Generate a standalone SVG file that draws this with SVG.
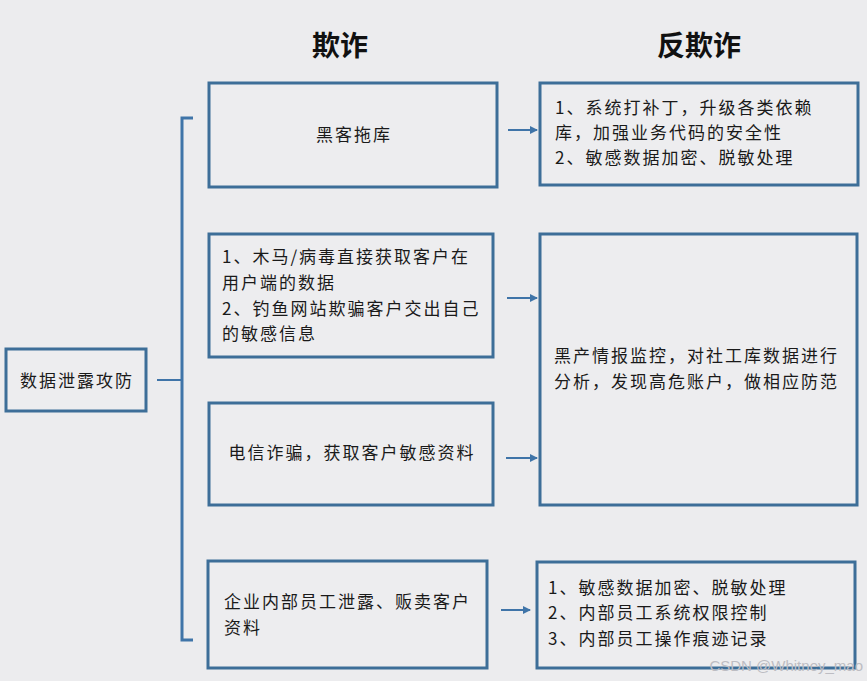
<svg xmlns="http://www.w3.org/2000/svg" width="867" height="681" viewBox="0 0 867 681">
<style>
.bg{fill:#ececee}
.box{fill:#ededef;stroke:#3d6e98;stroke-width:3}
.t{font-family:"Noto Sans CJK SC","Liberation Sans",sans-serif;font-size:17px;letter-spacing:2px;fill:#1a1a1a}
.h{font-family:"Noto Sans CJK SC","Liberation Sans",sans-serif;font-size:28px;font-weight:bold;fill:#111}
.ln{stroke:#3f74a8;stroke-width:2;fill:none}
.br{stroke:#3f74a8;stroke-width:3;fill:none}
.wm{font-family:"Liberation Sans",sans-serif;font-size:15px;fill:#bdbdc3}
</style>
<defs>
<marker id="ah" markerWidth="8" markerHeight="8" refX="7" refY="4" orient="auto" markerUnits="userSpaceOnUse">
<path d="M0,0 L8,4 L0,8 Z" fill="#3f74a8"/>
</marker>
</defs>
<rect class="bg" x="0" y="0" width="867" height="681"/>
<text class="h" x="340" y="56" text-anchor="middle">欺诈</text>
<text class="h" x="699" y="56" text-anchor="middle">反欺诈</text>

<g id="connectors">
<line class="ln" x1="157" y1="380" x2="182" y2="380"/>
<path class="br" d="M193,118 H182 V640 H193"/>
<line class="ln" x1="508" y1="130" x2="537" y2="130" marker-end="url(#ah)"/>
<line class="ln" x1="507" y1="298" x2="537" y2="298" marker-end="url(#ah)"/>
<line class="ln" x1="506" y1="458" x2="537" y2="458" marker-end="url(#ah)"/>
<line class="ln" x1="501" y1="610" x2="530" y2="610" marker-end="url(#ah)"/>
</g>

<g id="root">
<rect class="box" x="6" y="349" width="140" height="62"/>
<text class="t" x="77" y="387" text-anchor="middle">数据泄露攻防</text>
</g>

<g id="fraud1">
<rect class="box" x="209" y="83" width="288" height="104"/>
<text class="t" x="354" y="141" text-anchor="middle">黑客拖库</text>
</g>

<g id="anti1">
<rect class="box" x="540" y="83" width="318" height="102"/>
<text class="t" x="555" y="114">1、系统打补丁，升级各类依赖</text>
<text class="t" x="555" y="139">库，加强业务代码的安全性</text>
<text class="t" x="555" y="164">2、敏感数据加密、脱敏处理</text>
</g>

<g id="fraud2">
<rect class="box" x="209" y="234" width="284" height="123"/>
<text class="t" x="222" y="263">1、木马/病毒直接获取客户在</text>
<text class="t" x="222" y="289">用户端的数据</text>
<text class="t" x="222" y="315">2、钓鱼网站欺骗客户交出自己</text>
<text class="t" x="222" y="340">的敏感信息</text>
</g>

<g id="fraud3">
<rect class="box" x="209" y="403" width="284" height="102"/>
<text class="t" x="352" y="459" text-anchor="middle">电信诈骗，获取客户敏感资料</text>
</g>

<g id="anti2">
<rect class="box" x="540" y="234" width="317" height="271"/>
<text class="t" x="554" y="362">黑产情报监控，对社工库数据进行</text>
<text class="t" x="554" y="388">分析，发现高危账户，做相应防范</text>
</g>

<g id="fraud4">
<rect class="box" x="208" y="561" width="279" height="107"/>
<text class="t" x="224" y="608">企业内部员工泄露、贩卖客户</text>
<text class="t" x="224" y="634">资料</text>
</g>

<g id="anti4">
<rect class="box" x="537" y="562" width="318" height="106"/>
<text class="t" x="548" y="594">1、敏感数据加密、脱敏处理</text>
<text class="t" x="548" y="619">2、内部员工系统权限控制</text>
<text class="t" x="548" y="645">3、内部员工操作痕迹记录</text>
</g>

<text class="wm" x="863" y="671" text-anchor="end">CSDN @Whitney_mao</text>
</svg>
